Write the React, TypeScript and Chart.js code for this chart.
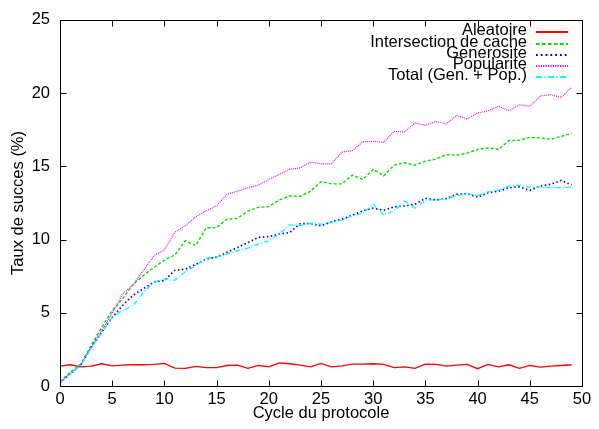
import React, { useEffect, useRef } from "react";
import { Chart, registerables } from "chart.js";

Chart.register(...registerables);

const cycles = [
  0, 1, 2, 3, 4, 5, 6, 7, 8, 9, 10, 11, 12, 13, 14, 15, 16, 17, 18, 19, 20, 21, 22, 23, 24,
  25, 26, 27, 28, 29, 30, 31, 32, 33, 34, 35, 36, 37, 38, 39, 40, 41, 42, 43, 44, 45, 46, 47, 48, 49,
];

const aleatoire = [
  1.36, 1.45, 1.31, 1.36, 1.52, 1.38, 1.43, 1.45, 1.45, 1.47, 1.54, 1.22, 1.2, 1.34, 1.25, 1.25, 1.4,
  1.43, 1.2, 1.4, 1.31, 1.58, 1.52, 1.43, 1.31, 1.54, 1.31, 1.38, 1.49, 1.49, 1.52, 1.47, 1.25, 1.31,
  1.2, 1.49, 1.47, 1.36, 1.43, 1.47, 1.18, 1.47, 1.31, 1.45, 1.2, 1.4, 1.29, 1.36, 1.4, 1.45,
];

const intersection = [
  0.3, 0.95, 1.5, 2.8, 4.0, 5.15, 5.95, 6.95, 7.55, 8.1, 8.6, 8.95, 9.92, 9.6, 10.8, 10.82, 11.4,
  11.45, 11.95, 12.2, 12.25, 12.7, 12.98, 12.95, 13.3, 13.95, 13.8, 13.8, 14.4, 14.1, 14.8, 14.35,
  15.08, 15.24, 15.08, 15.35, 15.5, 15.8, 15.76, 15.9, 16.15, 16.26, 16.15, 16.76, 16.78, 16.98,
  16.94, 16.85, 17.05, 17.25,
];

const generosite = [
  0.2, 0.85, 1.45, 2.65, 3.7, 4.68, 5.5, 6.2, 6.65, 7.1, 7.2, 7.9, 7.98, 8.3, 8.67, 8.8, 9.13, 9.46,
  9.8, 10.15, 10.2, 10.37, 10.48, 11.08, 11.1, 10.94, 11.21, 11.39, 11.66, 11.96, 12.14, 12.0, 12.23,
  12.3, 12.41, 12.82, 12.7, 12.8, 13.09, 13.13, 12.9, 13.2, 13.3, 13.54, 13.6, 13.36, 13.65, 13.77,
  14.04, 13.72,
];

const popularite = [
  0.25, 0.85, 1.45, 2.65, 3.8, 4.95, 6.3, 6.9, 7.9, 8.9, 9.3, 10.5, 10.94, 11.55, 11.96, 12.3, 13.09,
  13.3, 13.54, 13.72, 14.1, 14.45, 14.79, 14.9, 15.29, 15.17, 15.17, 15.97, 16.08, 16.67, 16.71,
  16.64, 17.39, 17.35, 17.96, 17.8, 18.07, 17.9, 18.48, 18.23, 18.64, 18.8, 19.1, 18.8, 19.2, 19.1,
  19.8, 19.9, 19.7, 20.4,
];

const total = [
  0.2, 0.85, 1.45, 2.6, 3.6, 4.7, 5.16, 5.5, 6.4, 7.09, 7.31, 7.22, 7.8, 8.22, 8.74, 8.79, 9.01, 9.24,
  9.42, 9.69, 9.92, 10.37, 11.0, 10.97, 11.1, 11.05, 11.16, 11.34, 11.62, 11.77, 12.41, 11.68, 11.96,
  12.64, 12.14, 12.68, 12.72, 12.75, 13.0, 13.13, 13.0, 13.25, 13.36, 13.65, 13.72, 13.58, 13.58,
  13.54, 13.54, 13.58,
];

const seriesNames = [
  "Aleatoire",
  "Intersection de cache",
  "Generosite",
  "Popularite",
  "Total (Gen. + Pop.)",
];

const xTicks = [0, 5, 10, 15, 20, 25, 30, 35, 40, 45, 50];
const yTicks = [0, 5, 10, 15, 20, 25];

const FONT = '"Liberation Sans", Arial, Helvetica, sans-serif';
const FSIZE = 16.5;

const lineStyles = [
  { color: "#ff0000", width: 1.3, dash: [] as number[] },
  { color: "#00e000", width: 1.4, dash: [3, 2] },
  { color: "#0000ff", width: 1.7, dash: [1.5, 2.5] },
  { color: "#ff00ff", width: 1.2, dash: [1, 1] },
  { color: "#00ffff", width: 1.3, dash: [5, 2, 1, 2] },
];

const framePlugin = {
  id: "gnuFrame",
  afterDatasetsDraw(chart: any) {
    const { ctx, chartArea: a, scales } = chart;
    const xs = scales.x;
    const ys = scales.y;
    ctx.save();
    ctx.setLineDash([]);
    ctx.strokeStyle = "#000";
    ctx.lineWidth = 1;
    const L = Math.round(a.left) + 0.5;
    const R = Math.round(a.right) + 0.5;
    const T = Math.round(a.top) + 0.5;
    const B = Math.round(a.bottom) + 0.5;
    ctx.beginPath();
    ctx.rect(L, T, R - L, B - T);
    const tl = 6;
    xTicks.forEach((v) => {
      const px = Math.round(xs.getPixelForValue(v)) + 0.5;
      ctx.moveTo(px, B);
      ctx.lineTo(px, B - tl);
      ctx.moveTo(px, T);
      ctx.lineTo(px, T + tl);
    });
    yTicks.forEach((v) => {
      const py = Math.round(ys.getPixelForValue(v)) + 0.5;
      ctx.moveTo(L, py);
      ctx.lineTo(L + tl, py);
      ctx.moveTo(R, py);
      ctx.lineTo(R - tl, py);
    });
    ctx.stroke();
    ctx.restore();
  },
  afterDraw(chart: any) {
    const { ctx, chartArea: a } = chart;
    ctx.save();
    ctx.font = `${FSIZE}px ${FONT}`;
    ctx.textAlign = "right";
    ctx.textBaseline = "middle";
    const textX = a.right - 55;
    const lineX0 = a.right - 46;
    const lineX1 = a.right - 14;
    seriesNames.forEach((name, i) => {
      const st = lineStyles[i];
      const yy = a.top + 11 + i * 11.25;
      ctx.fillStyle = "#000";
      ctx.fillText(name, textX, yy);
      ctx.strokeStyle = st.color;
      ctx.lineWidth = 2;
      ctx.setLineDash(st.dash.map((d) => d * 1.2));
      ctx.beginPath();
      const ly = Math.round(yy + 1.5);
      ctx.moveTo(lineX0, ly);
      ctx.lineTo(lineX1, ly);
      ctx.stroke();
    });
    ctx.restore();
  },
};

export default function App() {
  const canvasRef = useRef<HTMLCanvasElement | null>(null);

  useEffect(() => {
    const canvas = canvasRef.current;
    if (!canvas) return;
    Chart.defaults.font.family = FONT;
    const mk = (vals: number[]) => cycles.map((c, i) => ({ x: c, y: vals[i] }));
    const seriesValues = [aleatoire, intersection, generosite, popularite, total];
    const chart = new Chart(canvas, {
      type: "line",
      data: {
        datasets: seriesValues.map((vals, i) => ({
          label: seriesNames[i],
          data: mk(vals),
          borderColor: lineStyles[i].color,
          borderWidth: lineStyles[i].width,
          borderDash: lineStyles[i].dash,
          pointRadius: 0,
          tension: 0,
          fill: false,
          order: 5 - i,
        })),
      },
      options: {
        responsive: false,
        animation: false,
        devicePixelRatio: 1,
        layout: { padding: { top: 18, right: 17, left: 0, bottom: 0 } },
        plugins: {
          legend: { display: false },
          tooltip: { enabled: false },
          title: { display: false },
        },
        scales: {
          x: {
            type: "linear",
            min: 0,
            max: 50,
            grid: { display: false, drawTicks: false },
            border: { display: false },
            ticks: {
              stepSize: 5,
              color: "#000",
              font: { size: FSIZE, family: FONT },
              padding: 4,
              maxRotation: 0,
              autoSkip: false,
            },
            title: {
              display: true,
              text: "Cycle du protocole",
              color: "#000",
              font: { size: FSIZE, family: FONT },
              padding: { top: 0, bottom: 6 },
            },
            afterFit: (scale: any) => {
              scale.height = 43;
            },
          },
          y: {
            type: "linear",
            min: 0,
            max: 25,
            grid: { display: false, drawTicks: false },
            border: { display: false },
            ticks: {
              stepSize: 5,
              color: "#000",
              font: { size: FSIZE, family: FONT },
              padding: 10,
            },
            title: {
              display: true,
              text: "Taux de succes (%)",
              color: "#000",
              font: { size: FSIZE, family: FONT },
              padding: { top: 9, bottom: 0 },
            },
            afterFit: (scale: any) => {
              scale.width = 60;
            },
          },
        },
      },
      plugins: [framePlugin],
    });
    return () => chart.destroy();
  }, []);

  return (
    <div style={{ position: "fixed", left: 0, top: 0, width: 599, height: 429, background: "#fff" }}>
      <canvas ref={canvasRef} width={599} height={429} style={{ width: 599, height: 429, display: "block" }} />
    </div>
  );
}
